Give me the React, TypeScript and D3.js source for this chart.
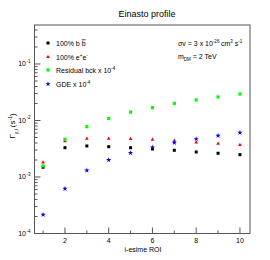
import React from "react";
import * as d3 from "d3";

const rois = [1, 2, 3, 4, 5, 6, 7, 8, 9, 10];
const bbValues = [1.49e-3, 3.3e-3, 3.54e-3, 3.44e-3, 3.3e-3, 3.13e-3, 2.97e-3, 2.77e-3, 2.63e-3, 2.48e-3];
const eeValues = [1.82e-3, 4.29e-3, 4.76e-3, 4.76e-3, 4.7e-3, 4.57e-3, 4.39e-3, 4.11e-3, 3.89e-3, 3.68e-3];
const residualValues = [1.57e-3, 4.65e-3, 7.77e-3, 1.08e-2, 1.41e-2, 1.69e-2, 2.01e-2, 2.31e-2, 2.61e-2, 2.94e-2];
const gdeValues = [2.15e-4, 6.2e-4, 1.31e-3, 2.0e-3, 2.66e-3, 3.36e-3, 4.05e-3, 4.7e-3, 5.38e-3, 6.08e-3];
const xTicks = [2, 4, 6, 8, 10];
const xMinorTicks = [1, 3, 5, 7, 9];
const yDecades = [-4, -3, -2, -1];

const W = 270, H = 260;
const L = 34.5, R = 250, T = 25, B = 233.5;
const FONT = "'Liberation Sans', Arial, Helvetica, sans-serif";

const x = d3.scaleLinear().domain([0.607, 10.46]).range([L, R]);
const y = d3.scaleLog().domain([1e-4, Math.pow(10, -0.31)]).range([B, T]);

function Marker({ kind, cx, cy, color }: { kind: string; cx: number; cy: number; color: string }) {
  if (kind === "square") return <rect x={cx - 1.5} y={cy - 1.5} width={3} height={3} fill={color} />;
  if (kind === "circle") return <rect x={cx - 1.6} y={cy - 1.6} width={3.2} height={3.2} fill={color} />;
  if (kind === "triangle") {
    const p = d3.symbol().type(d3.symbolTriangle).size(6)();
    return <path d={p as string} transform={`translate(${cx},${cy})`} fill={color} />;
  }
  const p = d3.symbol().type(d3.symbolStar).size(9)();
  return <path d={p as string} transform={`translate(${cx},${cy})`} fill={color} />;
}

const series = [
  { values: bbValues, color: "#000000", kind: "square" },
  { values: eeValues, color: "#ff0000", kind: "triangle" },
  { values: residualValues, color: "#00ff00", kind: "circle" },
  { values: gdeValues, color: "#0000ff", kind: "star" },
];

export default function App() {
  const minorY: number[] = [];
  yDecades.forEach((d) => {
    for (let k = 2; k <= 9; k++) {
      const v = k * Math.pow(10, d);
      if (v <= y.domain()[1]) minorY.push(v);
    }
  });
  const fs = 7;
  return (
    <svg width={W} height={H} style={{ position: "absolute", left: 0, top: 0, background: "#fff" }} fontFamily={FONT}>
      <rect x={0} y={0} width={W} height={H} fill="#fff" />
      <text x={147} y={17} fontSize={9} textAnchor="middle" fill="#000">Einasto profile</text>
      {/* frame */}
      <rect x={L} y={T} width={R - L} height={B - T} fill="none" stroke="#555" strokeWidth={1} />
      {/* x ticks */}
      {xTicks.map((t) => (
        <g key={"xt" + t}>
          <line x1={x(t)} x2={x(t)} y1={B} y2={B - 6} stroke="#555" />
          <text x={x(t)} y={242.5} fontSize={fs} textAnchor="middle">{t}</text>
        </g>
      ))}
      {xMinorTicks.map((t) => (
        <line key={"xm" + t} x1={x(t)} x2={x(t)} y1={B} y2={B - 3} stroke="#555" />
      ))}
      {/* y ticks */}
      {yDecades.map((d) => (
        <g key={"yd" + d}>
          <line x1={L} x2={L + 6} y1={y(Math.pow(10, d))} y2={y(Math.pow(10, d))} stroke="#555" />
          <text x={26} y={y(Math.pow(10, d)) + 2.5} fontSize={fs} textAnchor="end">10</text>
          <text x={26.5} y={y(Math.pow(10, d)) - 1} fontSize={4.5} textAnchor="start">{d}</text>
        </g>
      ))}
      {minorY.map((v, i) => (
        <line key={"ym" + i} x1={L} x2={L + 3} y1={y(v)} y2={y(v)} stroke="#555" />
      ))}
      {/* axis titles */}
      <text x={143} y={252} fontSize={fs} textAnchor="middle">i-esime ROI</text>
      <g transform="translate(15,126) rotate(-90)">
        <text x={0} y={0} fontSize={8} textAnchor="middle">
          <tspan>Γ</tspan>
          <tspan fontSize={5} dy={2.5}>γ,i</tspan>
          <tspan dy={-2.5} dx={2}>(s</tspan>
          <tspan fontSize={5} dy={-3}>-1</tspan>
          <tspan dy={3}>)</tspan>
        </text>
      </g>
      {/* data */}
      {series.map((s, si) =>
        s.values.map((v, i) => (
          <Marker key={si + "-" + i} kind={s.kind} cx={x(rois[i])} cy={y(v)} color={s.color} />
        ))
      )}
      {/* legend */}
      <g fontSize={fs}>
        <Marker kind="square" cx={48} cy={43} color="#000000" />
        <text x={56} y={45.5}>100% b <tspan textDecoration="overline">b</tspan></text>
        <Marker kind="triangle" cx={48} cy={57} color="#ff0000" />
        <text x={56} y={59.5}>100% e<tspan fontSize={4.5} dy={-3}>+</tspan><tspan dy={3}>e</tspan><tspan fontSize={4.5} dy={-3}>-</tspan></text>
        <Marker kind="circle" cx={48} cy={70} color="#00ff00" />
        <text x={56} y={72.5}>Residual bck x 10<tspan fontSize={4.5} dy={-3}>-4</tspan></text>
        <Marker kind="star" cx={48} cy={84} color="#0000ff" />
        <text x={56} y={86.5}>GDE x 10<tspan fontSize={4.5} dy={-3}>-4</tspan></text>
      </g>
      {/* annotation */}
      <g fontSize={fs}>
        <text x={178} y={46}>σv = 3 x 10<tspan fontSize={4.5} dy={-3.5}>-26</tspan><tspan dy={3.5} dx={1.5}>cm</tspan><tspan fontSize={4.5} dy={-3.5}>3</tspan><tspan dy={3.5}> s</tspan><tspan fontSize={4.5} dy={-3.5}>-1</tspan></text>
        <text x={178} y={59}>m<tspan fontSize={4.5} dy={2}>DM</tspan><tspan dy={-2}> = 2 TeV</tspan></text>
      </g>
    </svg>
  );
}
